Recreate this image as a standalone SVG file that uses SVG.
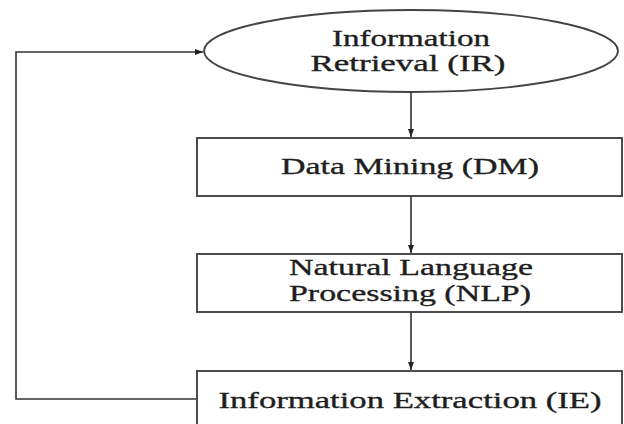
<svg xmlns="http://www.w3.org/2000/svg" width="624" height="424" viewBox="0 0 624 424">
<defs>
<style>
.node{fill:#fff;stroke:#444;stroke-width:1.9}
.lbl{font-family:"Liberation Serif","Times New Roman",serif;font-size:24px;fill:#1e1e1e;stroke:#1e1e1e;stroke-width:0.35;text-anchor:middle}
.edge{fill:none;stroke:#333;stroke-width:1.6}
</style>
<marker id="ah" markerUnits="userSpaceOnUse" markerWidth="8" markerHeight="8" viewBox="0 0 8 8" refX="8" refY="4" orient="auto">
<path d="M0,1 L8,4 L0,7 Z" fill="#222"/>
</marker>
</defs>
<rect width="624" height="424" fill="#fff"/>
<g id="connectors">
<line class="edge" x1="411" y1="92" x2="411" y2="137" marker-end="url(#ah)"/>
<line class="edge" x1="411" y1="196" x2="411" y2="253" marker-end="url(#ah)"/>
<line class="edge" x1="411" y1="312" x2="411" y2="370" marker-end="url(#ah)"/>
<polyline class="edge" points="197,399 16,399 16,52 203,52" marker-end="url(#ah)"/>
</g>
<g id="ir">
<ellipse class="node" cx="411" cy="51" rx="207" ry="41"/>
<text class="lbl" x="411" y="46" textLength="158" lengthAdjust="spacingAndGlyphs">Information</text>
<text class="lbl" x="408" y="71" textLength="195" lengthAdjust="spacingAndGlyphs">Retrieval (IR)</text>
</g>
<g id="dm">
<rect class="node" x="197" y="138" width="425" height="58"/>
<text class="lbl" x="410" y="174" textLength="258" lengthAdjust="spacingAndGlyphs">Data Mining (DM)</text>
</g>
<g id="nlp">
<rect class="node" x="197" y="254" width="425" height="58"/>
<text class="lbl" x="411" y="275" textLength="244" lengthAdjust="spacingAndGlyphs">Natural Language</text>
<text class="lbl" x="410" y="301" textLength="242" lengthAdjust="spacingAndGlyphs">Processing (NLP)</text>
</g>
<g id="ie">
<rect class="node" x="197" y="371" width="425" height="60"/>
<text class="lbl" x="410" y="408" textLength="383" lengthAdjust="spacingAndGlyphs">Information Extraction (IE)</text>
</g>
</svg>
